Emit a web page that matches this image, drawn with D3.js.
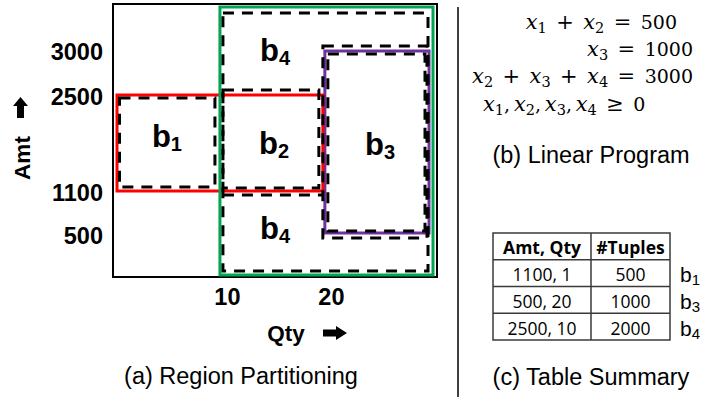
<!DOCTYPE html>
<html><head><meta charset="utf-8">
<script src="https://cdn.jsdelivr.net/npm/d3@7/dist/d3.min.js"></script>
<style>
html,body{margin:0;padding:0;background:#fff;}
svg{display:block;}
</style></head>
<body>
<svg id="chart" width="702" height="399"></svg>
<script>
// ---------------- data ----------------
const QTY_MAX = 30.5;
const AMT_MAX = 3500;
const amtTicks = [500, 1100, 2500, 3000];
const qtyTicks = [10, 20];
const amtBreaks = [0, 500, 1100, 2500, 3000, AMT_MAX];
// constraint regions (coloured rectangles)
const constraintIds = ["red", "green", "purple"];
const constraintQty = [[0, 20], [10, QTY_MAX], [20, QTY_MAX]];
const constraintAmt = [[1100, 2500], [0, AMT_MAX], [500, 3000]];
// partition cells (dashed outlines)
const cellIds = ["b1", "b2", "b4", "b3", "b3i"];
const cellQty = [[0, 10], [10, 20], [10, QTY_MAX], [20, QTY_MAX], [20, QTY_MAX]];
const cellAmt = [[1100, 2500], [1100, 2500], [0, AMT_MAX], [500, 3000], [500, 3000]];
// cell labels
const labelSub = ["1", "2", "3", "4", "4"];
const labelQty = [4.9, 15.2, 25.4, 15.3, 15.3];
const labelAmt = [1900, 1800, 1790, 3000, 590];
// linear program
const lpLines = ["x_1 + x_2 = 500", "x_3 = 1000", "x_2 + x_3 + x_4 = 3000", "x_1, x_2, x_3, x_4 \u2265 0"];
// table summary
const tableHeader = ["Amt, Qty", "#Tuples"];
const tableAmtQty = ["1100, 1", "500, 20", "2500, 10"];
const tableTuples = [500, 1000, 2000];
const tableBucket = ["1", "3", "4"];
const captions = ["(a) Region Partitioning", "(b) Linear Program", "(c) Table Summary"];

// ---------------- drawing ----------------
const svg = d3.select("#chart");
const SANS = "'Liberation Sans', Arial, sans-serif";

const x = d3.scaleLinear().domain([0, QTY_MAX]).range([116, 433]);
const y = d3.scaleLinear().domain(amtBreaks).range([275, 234, 191, 95, 50, 7]);

// outer frame
svg.append("rect")
  .attr("x", x(0) - 3).attr("y", y(AMT_MAX) - 3)
  .attr("width", x(QTY_MAX) - x(0) + 7).attr("height", y(0) - y(AMT_MAX) + 5)
  .attr("fill", "none").attr("stroke", "#000").attr("stroke-width", 2);

// constraint rectangles
const cColor = {red: "#FF0000", green: "#00A650", purple: "#7030A0"};
const cPad = {red: [1, 0, 1, 0], green: [0, 0, 0, 0], purple: [1, 1, 4, 1]}; // l,t,r,b inward px
const cOrder = ["purple", "red", "green"];
cOrder.forEach(id => {
  const i = constraintIds.indexOf(id);
  const p = cPad[id];
  const x0 = x(constraintQty[i][0]) + p[0], x1 = x(constraintQty[i][1]) - p[2];
  const y0 = y(constraintAmt[i][1]) + p[1], y1 = y(constraintAmt[i][0]) - p[3];
  svg.append("rect").attr("x", x0).attr("y", y0).attr("width", x1 - x0).attr("height", y1 - y0)
    .attr("fill", "none").attr("stroke", cColor[id]).attr("stroke-width", 3);
});

// dashed partition cells
const dPad = {b1: [3.5, 3, 5, 4], b2: [3, -5, 5, 3], b4: [3, 6, 5, 4], b3: [-1, -4, 6, -4], b3i: [4, 4, 8, 3]};
cellIds.forEach((id, i) => {
  const p = dPad[id];
  const x0 = x(cellQty[i][0]) + p[0], x1 = x(cellQty[i][1]) - p[2];
  const y0 = y(cellAmt[i][1]) + p[1], y1 = y(cellAmt[i][0]) - p[3];
  svg.append("rect").attr("x", x0).attr("y", y0).attr("width", x1 - x0).attr("height", y1 - y0)
    .attr("fill", "none").attr("stroke", "#000").attr("stroke-width", 3)
    .attr("stroke-dasharray", "11 8");
});
// boundary of lower b4 below b2
svg.append("line")
  .attr("x1", x(10) + 3).attr("x2", x(20) - 1)
  .attr("y1", y(1100) + 4).attr("y2", y(1100) + 4)
  .attr("stroke", "#000").attr("stroke-width", 3).attr("stroke-dasharray", "11 8");

// cell labels
labelSub.forEach((s, i) => {
  const t = svg.append("text")
    .attr("x", x(labelQty[i])).attr("y", y(labelAmt[i]))
    .attr("text-anchor", "middle").attr("dominant-baseline", "central")
    .attr("font-family", SANS).attr("font-weight", "bold").attr("font-size", 31);
  t.append("tspan").text("b");
  t.append("tspan").attr("font-size", 20).attr("dy", 8).text(s);
});

// axes (labels only)
const yAxis = d3.axisLeft(y).tickValues(amtTicks).tickSize(0).tickPadding(0).tickFormat(d3.format("d"));
const gy = svg.append("g").attr("transform", "translate(103,2)").call(yAxis);
gy.select(".domain").remove();
gy.selectAll("text").attr("font-family", SANS).attr("font-weight", "bold").attr("font-size", 23.5).attr("fill", "#000");

const xAxis = d3.axisBottom(x).tickValues(qtyTicks).tickSize(0).tickPadding(0).tickFormat(d3.format("d"));
const gx = svg.append("g").attr("transform", "translate(7,288)").call(xAxis);
gx.select(".domain").remove();
gx.selectAll("text").attr("font-family", SANS).attr("font-weight", "bold").attr("font-size", 23.5).attr("fill", "#000");

// axis titles with arrows
svg.append("text").attr("transform", "translate(22,158) rotate(-90)")
  .attr("text-anchor", "middle").attr("dominant-baseline", "central")
  .attr("font-family", SANS).attr("font-weight", "bold").attr("font-size", 22.5).text("Amt");
svg.append("path")
  .attr("d", "M20.5,97 L28,106 L24,106 L24,118 L17,118 L17,106 L13,106 Z").attr("fill", "#000");
svg.append("text").attr("x", 286).attr("y", 333)
  .attr("text-anchor", "middle").attr("dominant-baseline", "central")
  .attr("font-family", SANS).attr("font-weight", "bold").attr("font-size", 22.5).text("Qty");
svg.append("path")
  .attr("d", "M323,329.5 L336,329.5 L336,326 L347,333 L336,340 L336,336.5 L323,336.5 Z").attr("fill", "#000");

// separator
svg.append("line").attr("x1", 458).attr("x2", 458).attr("y1", 7).attr("y2", 397)
  .attr("stroke", "#000").attr("stroke-width", 1.5);

// linear program
const SERIF = "'DejaVu Serif', 'Liberation Serif', serif";
const lpPos = [[677, 29, "end"], [693, 56, "end"], [693, 83, "end"], [483, 111, "start"]];
lpLines.forEach((line, li) => {
  const t = svg.append("text").attr("x", lpPos[li][0]).attr("y", lpPos[li][1])
    .attr("text-anchor", lpPos[li][2]).attr("font-family", SERIF).attr("font-size", 19).attr("fill", "#000");
  const tokens = line.match(/x_\d|[+=\u2265]|,|\d+|\s+/g);
  let shifted = false, pad = 0;
  tokens.forEach(tok => {
    if (/^\s+$/.test(tok)) return;
    const back = shifted ? -4 : 0;
    shifted = false;
    const lead = pad; pad = 0;
    if (tok.startsWith("x_")) {
      t.append("tspan").attr("font-style", "italic").attr("font-size", 21).attr("dx", lead).attr("dy", back).text("x");
      t.append("tspan").attr("font-size", 14.5).attr("dy", 4).text(tok[2]);
      shifted = true;
    } else if (tok === ",") {
      t.append("tspan").attr("dx", lead).attr("dy", back).text(",\u2009");
    } else if (/[+=\u2265]/.test(tok)) {
      t.append("tspan").attr("dx", lead + 2.5).attr("dy", back).attr("font-size", 21).text("\u2004" + tok + "\u2004");
      pad = 2.5;
    } else {
      t.append("tspan").attr("dx", lead).attr("dy", back).text(tok);
    }
  });
});

// table
const TAB = "'Open Sans', 'Noto Sans', sans-serif";
const rows = ["h"].concat(tableAmtQty.map((d, i) => "r" + i));
const ry = d3.scaleBand().domain(rows).range([233, 340]);
const colX = [493, 591, 670];
const tg = svg.append("g");
tg.append("rect").attr("x", colX[0]).attr("y", 233).attr("width", colX[2] - colX[0]).attr("height", 107)
  .attr("fill", "none").attr("stroke", "#3a3a3a").attr("stroke-width", 1.5);
rows.slice(1).forEach(r => {
  tg.append("line").attr("x1", colX[0]).attr("x2", colX[2]).attr("y1", ry(r)).attr("y2", ry(r))
    .attr("stroke", "#3a3a3a").attr("stroke-width", 1.5);
});
tg.append("line").attr("x1", colX[1]).attr("x2", colX[1]).attr("y1", 233).attr("y2", 340)
  .attr("stroke", "#3a3a3a").attr("stroke-width", 1.5);
const cx = [(colX[0] + colX[1]) / 2, (colX[1] + colX[2]) / 2];
tableHeader.forEach((h, j) => {
  tg.append("text").attr("x", cx[j]).attr("y", ry("h") + ry.bandwidth() / 2 + 1)
    .attr("text-anchor", "middle").attr("dominant-baseline", "central")
    .attr("font-family", TAB).attr("font-weight", "bold").attr("font-size", 17.5).text(h);
});
tableAmtQty.forEach((v, i) => {
  const yy = ry("r" + i) + ry.bandwidth() / 2 + 1;
  tg.append("text").attr("x", cx[0]).attr("y", yy).attr("text-anchor", "middle").attr("dominant-baseline", "central")
    .attr("font-family", TAB).attr("font-size", 17.5).text(v);
  tg.append("text").attr("x", cx[1]).attr("y", yy).attr("text-anchor", "middle").attr("dominant-baseline", "central")
    .attr("font-family", TAB).attr("font-size", 17.5).text(tableTuples[i]);
  const bt = tg.append("text").attr("x", 680).attr("y", yy).attr("dominant-baseline", "central")
    .attr("font-family", SANS).attr("font-size", 21);
  bt.append("tspan").text("b");
  bt.append("tspan").attr("font-size", 15).attr("dy", 5).text(tableBucket[i]);
});

// captions
const capPos = [[241, 384], [591, 163], [591, 385]];
captions.forEach((c, i) => {
  svg.append("text").attr("x", capPos[i][0]).attr("y", capPos[i][1]).attr("text-anchor", "middle")
    .attr("font-family", SANS).attr("font-size", 23.5).attr("fill", "#000").text(c);
});
</script>
</body></html>
